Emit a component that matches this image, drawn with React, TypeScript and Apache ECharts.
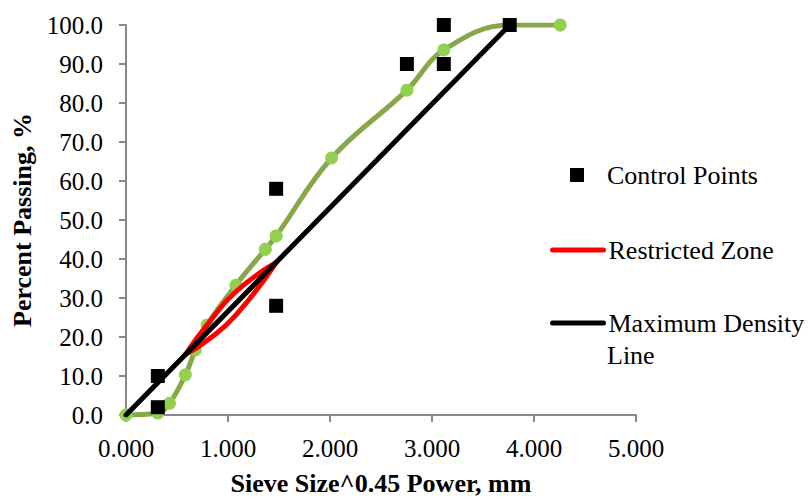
import React, { useEffect, useRef } from "react";
import * as echarts from "echarts";

const FONT = "Liberation Serif";

// Sieve size^0.45 (mm) and percent passing for the gradation
const gradationX = [0, 0.312, 0.426, 0.582, 0.68, 0.795, 1.077, 1.366, 1.472, 2.016, 2.754, 3.116, 3.762, 4.257];
const gradationY = [0, 0.5, 3.0, 10.3, 16.7, 23.1, 33.3, 42.5, 45.9, 65.9, 83.3, 93.6, 100, 100];

const controlX = [0.312, 0.312, 1.472, 1.472, 2.754, 3.116, 3.116, 3.762];
const controlY = [2, 10, 28, 58, 90, 90, 100, 100];

const zoneX = [0.582, 0.795, 1.077, 1.472];
const zoneUpperY = [15.5, 23.1, 31.6, 39.1];
const zoneLowerY = [15.5, 19.1, 25.6, 39.1];

const mdlX = [0, 3.762];
const mdlY = [0, 100];

const xTicks = [0, 1, 2, 3, 4, 5];
const yTicks = [0, 10, 20, 30, 40, 50, 60, 70, 80, 90, 100];

const zip = (xs: number[], ys: number[]) => xs.map((x, i) => [x, ys[i]]);

export default function App() {
  const ref = useRef<HTMLDivElement>(null);
  useEffect(() => {
    if (!ref.current) return;
    const chart = echarts.init(ref.current, undefined, { renderer: "svg" });
    const axisColor = "#898989";
    const legendText = { fontFamily: FONT, fontSize: 26, color: "#000", lineHeight: 30 };
    const lineLegendCommon = {
      orient: "vertical",
      left: 550,
      padding: 0,
      itemWidth: 51,
      itemHeight: 14,
      selectedMode: false,
      itemStyle: { color: "rgba(0,0,0,0)", borderWidth: 0, opacity: 0 },
      textStyle: legendText,
    };
    chart.setOption({
      animation: false,
      backgroundColor: "#fff",
      textStyle: { fontFamily: FONT },
      grid: {
        left: 126,
        right: 175,
        top: 25,
        bottom: 84,
        containLabel: false,
        outerBoundsMode: "none",
      },
      xAxis: {
        type: "value",
        min: xTicks[0],
        max: xTicks[xTicks.length - 1],
        interval: 1,
        name: "Sieve Size^0.45 Power, mm",
        nameLocation: "middle",
        nameGap: 55,
        nameTextStyle: { fontFamily: FONT, fontSize: 26, fontWeight: "bold", color: "#000" },
        axisLine: { show: true, onZero: false, lineStyle: { color: axisColor, width: 2 } },
        axisTick: { show: true, length: 7, lineStyle: { color: axisColor, width: 2 } },
        splitLine: { show: false },
        axisLabel: {
          margin: 21,
          fontSize: 25,
          fontFamily: FONT,
          color: "#000",
          formatter: (v: number) => v.toFixed(3),
        },
      },
      yAxis: {
        type: "value",
        min: yTicks[0],
        max: yTicks[yTicks.length - 1],
        interval: 10,
        name: "Percent Passing, %",
        nameLocation: "middle",
        nameGap: 89,
        nameTextStyle: { fontFamily: FONT, fontSize: 26, fontWeight: "bold", color: "#000" },
        axisLine: { show: true, onZero: false, lineStyle: { color: axisColor, width: 2 } },
        axisTick: { show: true, length: 7, lineStyle: { color: axisColor, width: 2 } },
        splitLine: { show: false },
        axisLabel: {
          margin: 23,
          fontSize: 25,
          fontFamily: FONT,
          color: "#000",
          formatter: (v: number) => v.toFixed(1),
        },
      },
      legend: [
        {
          data: [{ name: "Control Points", icon: "rect" }],
          orient: "vertical",
          left: 570,
          top: 160,
          padding: 0,
          itemWidth: 14,
          itemHeight: 14,
          itemStyle: { color: "#000", opacity: 1 },
          textStyle: { ...legendText, padding: [0, 0, 0, 18] },
          selectedMode: false,
        },
        {
          ...lineLegendCommon,
          data: ["Restricted Zone"],
          top: 235,
          lineStyle: { color: "#ff0000", width: 5, cap: "round" },
        },
        {
          ...lineLegendCommon,
          data: ["Maximum Density Line"],
          top: 308,
          formatter: () => "Maximum Density",
          lineStyle: { color: "#000000", width: 5, cap: "round" },
        },
      ],
      graphic: [
        {
          type: "text",
          left: 607,
          top: 340,
          style: { text: "Line", fontFamily: FONT, fontSize: 26, fill: "#000", lineHeight: 30 },
        },
      ],
      series: [
        {
          name: "Gradation",
          type: "line",
          data: zip(gradationX, gradationY),
          smooth: 0.4,
          symbol: "circle",
          symbolSize: 13,
          lineStyle: { color: "#86a84a", width: 5 },
          itemStyle: { color: "#92d050" },
          z: 2,
        },
        {
          name: "Restricted Zone",
          type: "line",
          data: zip(zoneX, zoneUpperY),
          smooth: true,
          showSymbol: false,
          symbol: "none",
          lineStyle: { color: "#ff0000", width: 5, cap: "round" },
          itemStyle: { color: "#ff0000" },
          z: 3,
        },
        {
          name: "Restricted Zone",
          type: "line",
          data: zip(zoneX, zoneLowerY),
          smooth: true,
          showSymbol: false,
          symbol: "none",
          lineStyle: { color: "#ff0000", width: 5, cap: "round" },
          itemStyle: { color: "#ff0000" },
          z: 3,
        },
        {
          name: "Maximum Density Line",
          type: "line",
          data: zip(mdlX, mdlY),
          showSymbol: false,
          symbol: "none",
          lineStyle: { color: "#000000", width: 5, cap: "round" },
          itemStyle: { color: "#000000" },
          z: 4,
        },
        {
          name: "Control Points",
          type: "scatter",
          data: zip(controlX, controlY),
          symbol: "rect",
          symbolSize: 14,
          itemStyle: { color: "#000000", opacity: 1 },
          z: 5,
        },
      ],
    });
    return () => chart.dispose();
  }, []);
  return <div ref={ref} style={{ width: 811, height: 499, position: "absolute", left: 0, top: 0 }} />;
}
